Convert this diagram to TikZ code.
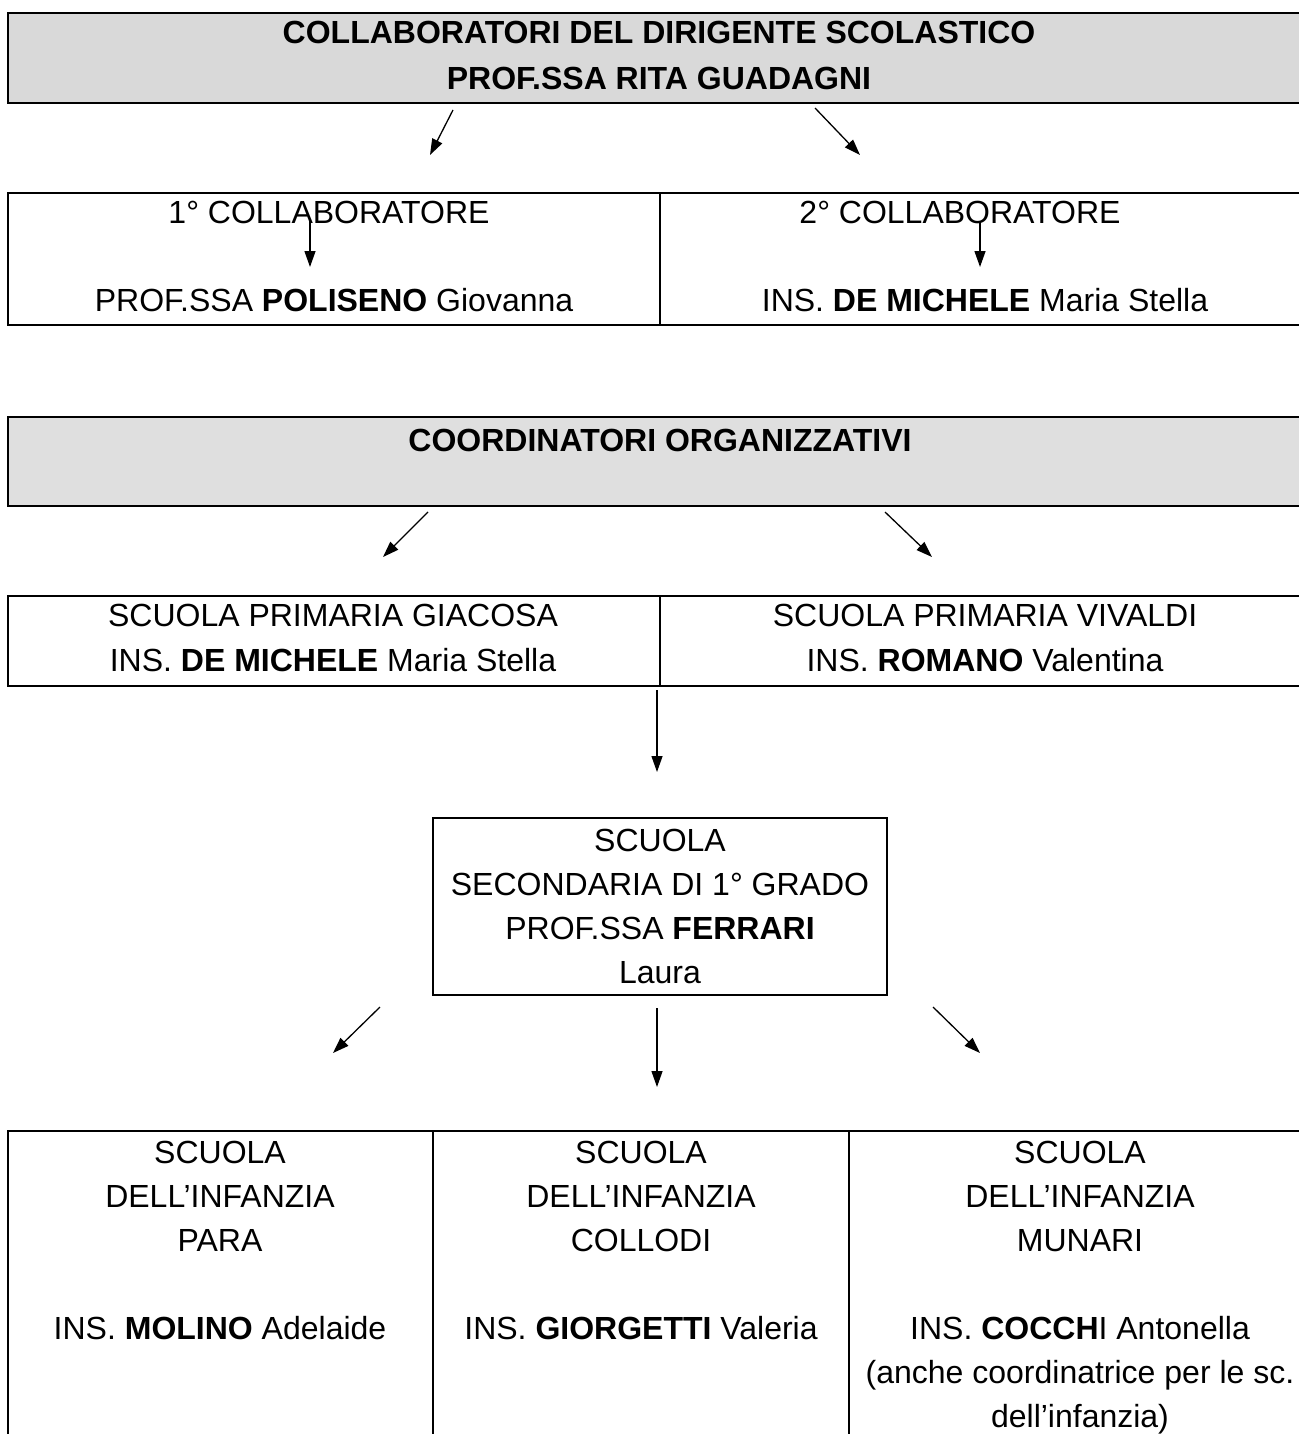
\documentclass[tikz,border=0pt]{standalone}
\usepackage{fontspec}
\setmainfont{Liberation Sans}
\usepackage{xcolor}
\usetikzlibrary{arrows.meta}

\definecolor{grigioA}{gray}{0.85}
\definecolor{grigioB}{gray}{0.875}

\tikzset{
    cella/.style={line width=1pt},
    testo/.style={font=\fontsize{16}{22}\selectfont, align=center, inner sep=0pt},
    freccia/.style={line width=0.65pt, -{Triangle[length=8pt,width=5.5pt]}},
}

\begin{document}
\begin{tikzpicture}[x=0.5pt,y=-0.5pt]
        \useasboundingbox (0,0) rectangle (1299,1434);
        \clip (0,0) rectangle (1299,1434);

        % collaboratori del dirigente
        \draw[cella, fill=grigioA] (8,13) rectangle (1310,103);
        \node (collab) [testo, anchor=north, font=\fontsize{16}{23}\selectfont\bfseries] at (659,21)
            {COLLABORATORI DEL DIRIGENTE SCOLASTICO\\PROF.SSA RITA GUADAGNI};

        \draw[cella] (8,193) rectangle (1310,325);
        \draw[cella] (660,193) -- (660,325);
        \node (primo)       [testo] at (329,212) {1° COLLABORATORE};
        \node (primonome)   [testo] at (334,300) {PROF.SSA \textbf{POLISENO} Giovanna};
        \node (secondo)     [testo] at (960,212) {2° COLLABORATORE};
        \node (secondonome) [testo] at (985,300) {INS. \textbf{DE MICHELE} Maria Stella};

        \coordinate (f1a) at (453,110); \coordinate (f1b) at (430,155);
        \coordinate (f2a) at (815,108); \coordinate (f2b) at (860,155);
        \coordinate (f3a) at (310,221); \coordinate (f3b) at (310,267);
        \coordinate (f4a) at (980,221); \coordinate (f4b) at (980,267);
        \draw[freccia] (f1a) -- (f1b);
        \draw[freccia] (f2a) -- (f2b);
        \draw[freccia] (f3a) -- (f3b);
        \draw[freccia] (f4a) -- (f4b);

        % coordinatori organizzativi
        \draw[cella, fill=grigioB] (8,417) rectangle (1310,506);
        \node (coord) [testo, font=\fontsize{16}{22}\selectfont\bfseries] at (660,440) {COORDINATORI ORGANIZZATIVI};

        \draw[cella] (8,596) rectangle (1310,686);
        \draw[cella] (660,596) -- (660,686);
        \node (giacosa)     [testo] at (333,615) {SCUOLA PRIMARIA GIACOSA};
        \node (giacosanome) [testo] at (333,660) {INS. \textbf{DE MICHELE} Maria Stella};
        \node (vivaldi)     [testo] at (985,615) {SCUOLA PRIMARIA VIVALDI};
        \node (vivaldinome) [testo] at (985,660) {INS. \textbf{ROMANO} Valentina};

        \coordinate (f5a) at (428,512); \coordinate (f5b) at (383,557);
        \coordinate (f6a) at (885,512); \coordinate (f6b) at (932,557);
        \coordinate (f7a) at (657,690); \coordinate (f7b) at (657,772);
        \draw[freccia] (f5a) -- (f5b);
        \draw[freccia] (f6a) -- (f6b);
        \draw[freccia] (f7a) -- (f7b);

        % secondaria
        \node (secondaria) [testo, draw, line width=1pt, minimum width=227pt, minimum height=88.5pt] at (660,906)
            {SCUOLA\\SECONDARIA DI 1° GRADO\\PROF.SSA \textbf{FERRARI}\\Laura};

        \coordinate (f8a)  at (380,1007); \coordinate (f8b)  at (333,1053);
        \coordinate (f9a)  at (657,1008); \coordinate (f9b)  at (657,1087);
        \coordinate (f10a) at (933,1007); \coordinate (f10b) at (980,1053);
        \draw[freccia] (f8a) -- (f8b);
        \draw[freccia] (f9a) -- (f9b);
        \draw[freccia] (f10a) -- (f10b);

        % scuole dell'infanzia
        \draw[cella] (8,1131) rectangle (1310,1460);
        \draw[cella] (433,1131) -- (433,1460);
        \draw[cella] (849,1131) -- (849,1460);
        \node (para) [testo, anchor=north] at (220,1141)
            {SCUOLA\\DELL’INFANZIA\\PARA\\[22pt]INS. \textbf{MOLINO} Adelaide};
        \node (collodi) [testo, anchor=north] at (641,1141)
            {SCUOLA\\DELL’INFANZIA\\COLLODI\\[22pt]INS. \textbf{GIORGETTI} Valeria};
        \node (munari) [testo, anchor=north] at (1080,1141)
            {SCUOLA\\DELL’INFANZIA\\MUNARI\\[22pt]INS. \textbf{COCCH}I Antonella\\(anche coordinatrice per le sc.\\dell’infanzia)};
\end{tikzpicture}
\end{document}
